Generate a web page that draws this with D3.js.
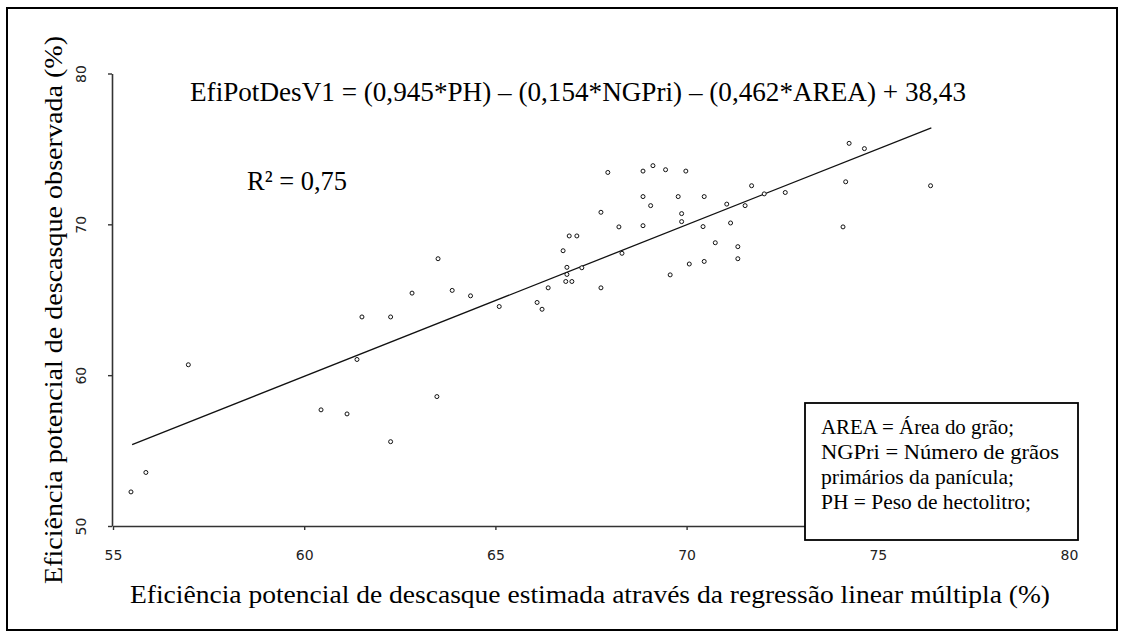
<!DOCTYPE html>
<html>
<head>
<meta charset="utf-8">
<script src="https://cdn.jsdelivr.net/npm/d3@7"></script>
<style>
  html, body { margin: 0; padding: 0; background: #fff; }
  svg { display: block; }
  .serif { font-family: "Liberation Serif", "Times New Roman", Times, serif; }
  .sans { font-family: Tahoma, "DejaVu Sans", Verdana, sans-serif; }
</style>
</head>
<body>
<svg id="chart" width="1126" height="636"></svg>
<script>
// ---- data ----
const estimated = [55.47, 55.86, 56.97, 60.44, 61.12, 61.38, 61.51, 62.26, 62.26, 62.82,
  63.47, 63.50, 63.87, 64.35, 65.10, 66.09, 66.22, 66.38, 66.77, 66.84,
  67.00, 66.87, 66.87, 66.93, 67.13, 67.26, 67.76, 67.76, 67.94, 68.23,
  68.31, 68.86, 69.12, 69.45, 69.98, 68.86, 69.78, 70.46, 69.06, 69.87,
  69.87, 68.86, 70.43, 70.75, 71.05, 71.15, 71.34, 71.34, 71.53, 70.46,
  70.07, 69.57, 71.70, 72.03, 72.58, 74.09, 74.16, 74.25, 74.65, 76.38];
const observed = [52.26, 53.55, 60.69, 57.70, 57.43, 61.04, 63.86, 63.86, 55.59, 65.44,
  58.58, 67.72, 65.62, 65.26, 64.55, 64.82, 64.37, 65.79, 68.25, 66.21,
  66.21, 67.15, 66.68, 69.23, 69.23, 67.12, 70.80, 65.79, 73.44, 69.83,
  68.08, 73.53, 73.89, 73.62, 73.53, 71.84, 71.84, 71.84, 71.24, 70.71,
  70.18, 69.91, 69.85, 68.78, 71.34, 70.09, 68.52, 67.72, 71.24, 67.54,
  67.37, 66.65, 72.56, 72.02, 72.11, 69.83, 72.82, 75.37, 75.02, 72.56];
const fitX = [55.5, 76.4];
const fitY = [55.4, 76.4];
const xTicks = [55, 60, 65, 70, 75, 80];
const yTicks = [50, 60, 70, 80];
const equationText = "EfiPotDesV1 = (0,945*PH) \u2013 (0,154*NGPri) \u2013 (0,462*AREA) + 38,43";
const r2Text = "R\u00B2 = 0,75";
const xTitle = "Eficiência potencial de descasque estimada através da regressão  linear múltipla (%)";
const yTitle = "Eficiência potencial de descasque observada (%)";
const legendLines = ["AREA = Área do grão;", "NGPri = Número de grãos", "primários da panícula;", "PH = Peso de hectolitro;"];

// ---- layout ----
const svg = d3.select("#chart");

svg.append("rect").attr("x", 7).attr("y", 8).attr("width", 1110).attr("height", 622)
  .attr("fill", "#fff").attr("stroke", "#000").attr("stroke-width", 2);

const x = d3.scaleLinear().domain([55, 80]).range([113, 1069]);
const y = d3.scaleLinear().domain([50, 80]).range([526, 73.5]);

// axes
const xAxis = svg.append("g").attr("transform", "translate(0,526)")
  .call(d3.axisBottom(x).tickValues(xTicks).tickSize(4).tickSizeOuter(0).tickPadding(20).tickFormat(d3.format("d")));
const yAxis = svg.append("g").attr("transform", "translate(112,0)")
  .call(d3.axisLeft(y).tickValues(yTicks).tickSize(4).tickSizeOuter(0).tickFormat(d3.format("d")));
[xAxis, yAxis].forEach(g => {
  g.attr("font-family", null).attr("font-size", null);
  g.select(".domain").attr("stroke", "#333").attr("stroke-width", 1.6);
  g.selectAll(".tick line").attr("stroke", "#333").attr("stroke-width", 1.4);
  g.selectAll("text").attr("class", "sans").attr("font-size", 14).attr("fill", "#222");
});
yAxis.selectAll(".tick text")
  .attr("x", 0).attr("dy", null).attr("text-anchor", "middle").attr("dominant-baseline", "central")
  .attr("transform", "translate(-31,0) rotate(-90)");

// fit line
svg.append("path")
  .datum(fitX.map((v, i) => [v, fitY[i]]))
  .attr("d", d3.line().x(d => x(d[0])).y(d => y(d[1])))
  .attr("fill", "none").attr("stroke", "#111").attr("stroke-width", 1.3);

// points
svg.append("g").selectAll("circle")
  .data(estimated.map((v, i) => [v, observed[i]]))
  .join("circle")
  .attr("cx", d => x(d[0])).attr("cy", d => y(d[1])).attr("r", 2)
  .attr("fill", "#fff").attr("stroke", "#111").attr("stroke-width", 1);

// equation and R2
svg.append("text").attr("class", "serif").attr("x", 190).attr("y", 101).text(equationText)
  .attr("font-size", 28).attr("fill", "#000")
  .attr("textLength", 776).attr("lengthAdjust", "spacingAndGlyphs");
svg.append("text").attr("class", "serif").attr("x", 247).attr("y", 190).text(r2Text)
  .attr("font-size", 28).attr("fill", "#000")
  .attr("textLength", 100).attr("lengthAdjust", "spacingAndGlyphs");

// axis titles
svg.append("text").attr("class", "serif").attr("x", 130).attr("y", 603).text(xTitle)
  .attr("font-size", 26).attr("fill", "#000")
  .attr("textLength", 920).attr("lengthAdjust", "spacingAndGlyphs");
svg.append("text").attr("class", "serif").attr("transform", "translate(62,310) rotate(-90)")
  .attr("text-anchor", "middle").text(yTitle)
  .attr("font-size", 26).attr("fill", "#000")
  .attr("textLength", 548).attr("lengthAdjust", "spacingAndGlyphs");

// legend box
svg.append("rect").attr("x", 805).attr("y", 403).attr("width", 273).attr("height", 137)
  .attr("fill", "#fff").attr("stroke", "#000").attr("stroke-width", 1.8);
const legendWidths = [193, 238, 193, 210];
svg.append("g").selectAll("text").data(legendLines).join("text")
  .attr("class", "serif")
  .attr("x", 821).attr("y", (d, i) => 434 + i * 25)
  .text(d => d)
  .attr("font-size", 22).attr("fill", "#000")
  .attr("textLength", (d, i) => legendWidths[i]).attr("lengthAdjust", "spacingAndGlyphs");
</script>
</body>
</html>
